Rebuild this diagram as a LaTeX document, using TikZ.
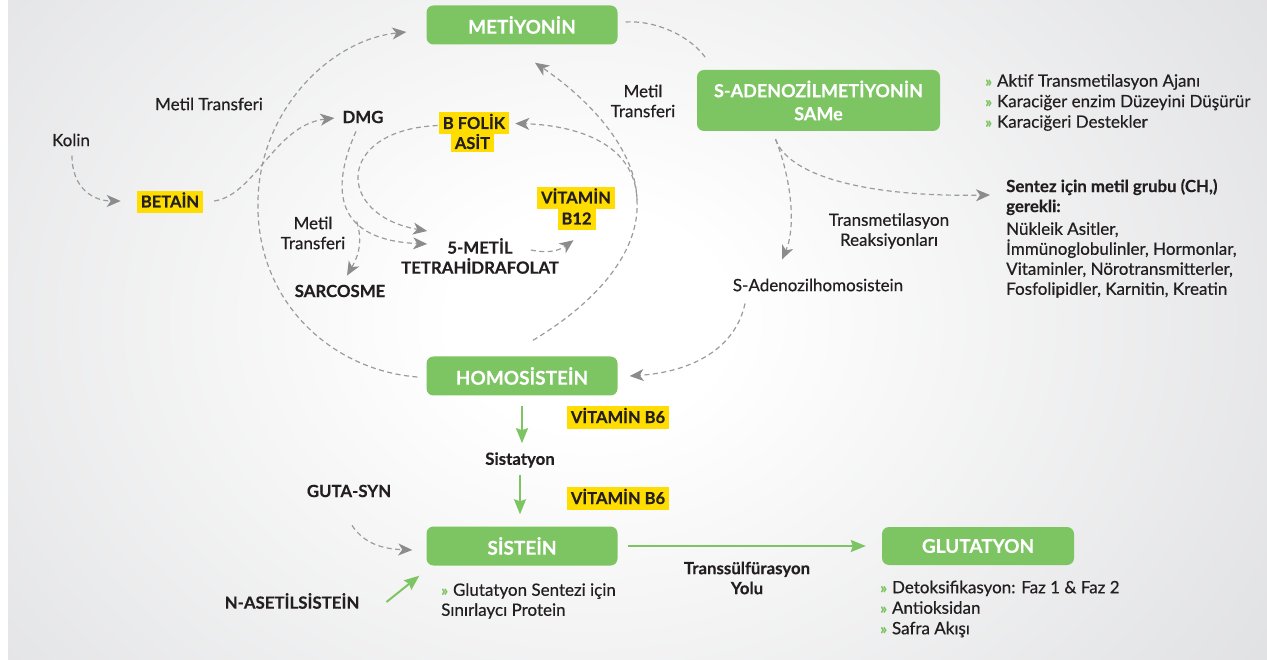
\documentclass[tikz,border=0pt]{standalone}
\usepackage{fontspec}
\setmainfont{Lato}[BoldFeatures={FakeBold=0.3}]
\newfontfamily\medfont{Lato}[FakeBold=0.5]
\usetikzlibrary{arrows.meta,calc}
\definecolor{gr}{RGB}{125,196,98}
\definecolor{yl}{RGB}{255,221,0}
\definecolor{dsg}{RGB}{155,155,157}
\definecolor{arg}{RGB}{140,140,142}
\definecolor{txt}{RGB}{35,31,32}
\definecolor{bgg}{RGB}{204,205,208}
\pgfdeclareradialshading{bgshade}{\pgfpoint{0bp}{0bp}}{color(0bp)=(white); color(5bp)=(white); color(46bp)=(bgg)}
\newcommand{\gq}{{\color{gr}\bfseries\fontsize{15}{15}\selectfont »}\hspace{5pt}}
\begin{document}
\begin{tikzpicture}[x=1pt,y=-1pt,
 gbox/.style={rounded corners=7pt, fill=gr, text=white, font=\bfseries\fontsize{19}{23}\selectfont, align=center, minimum width=191pt, minimum height=39pt, inner sep=0pt},
 hl/.style={fill=yl, text=txt, font=\bfseries\fontsize{16.5}{20}\selectfont, inner xsep=4pt, inner ysep=0pt, text height=12pt, text depth=1pt, minimum height=22pt},
 lab/.style={text=txt, font=\medfont\fontsize{17}{20}\selectfont, align=center, inner sep=0pt},
 blab/.style={text=txt, font=\bfseries\fontsize{16.8}{20}\selectfont, align=center, inner sep=0pt},
 dsh/.style={draw=dsg, line width=1.2pt, dash pattern=on 5pt off 3.5pt, -{Stealth[length=14pt,width=12pt,inset=4pt,fill=arg,color=arg]}},
 gar/.style={draw=gr, line width=2pt, -{Stealth[length=15pt,width=12pt,inset=2pt]}}
]
\useasboundingbox (0,0) rectangle (1267,660);
\fill[white] (0,0) rectangle (1267,660);
\begin{scope}
\clip (8,0) rectangle (1267,660);
\shade[shading=bgshade] (-100,-220) rectangle (1280,860);
\end{scope}

% boxes
\node[gbox] (met) at (522,25) {METİYONİN};
\node[gbox, minimum width=243pt, minimum height=61pt, font=\bfseries\fontsize{18}{23}\selectfont] (same) at (818.5,100.5) {S-ADENOZİLMETİYONİN\\SAMe};
\node[gbox] (homo) at (522,376) {HOMOSİSTEİN};
\node[gbox] (sis) at (522,546) {SİSTEİN};
\node[gbox, minimum width=192pt, minimum height=38pt] (glu) at (978,546) {GLUTATYON};

% labels
\node[lab] (kolin) at (71,140) {Kolin};
\node[lab] (mt1) at (209,104) {Metil Transferi};
\node[hl] (betain) at (170,202) {BETAİN};
\node[blab] (dmg) at (363,117) {DMG};
\node[hl, minimum height=18pt] (folik2) at (472.5,143.5) {ASİT};
\node[hl] (folik1) at (474,123.5) {B FOLİK};
\node[hl] (vit1) at (576,198) {VİTAMİN};
\node[hl] (vit2) at (576.5,219) {B12};
\node[hl, minimum height=23pt] (b6a) at (618,417.5) {VİTAMİN B6};
\node[hl, minimum height=23pt] (b6b) at (618,498.5) {VİTAMİN B6};
\node[lab] (mt2) at (313,233) {Metil\\Transferi};
\node[blab] (sarc) at (340,291) {SARCOSME};
\node[blab] (thf1) at (480,246) {5-METİL};
\node[blab] (thf2) at (480,266) {TETRAHİDRAFOLAT};
\node[lab] (mt3) at (643,101) {Metil\\Transferi};
\node[lab, anchor=west, align=left, font=\medfont\fontsize{17}{20.5}\selectfont] (samelist) at (985,102.5) {\gq Aktif Transmetilasyon Ajanı\\\gq Karaciğer enzim Düzeyini Düşürür\\\gq Karaciğeri Destekler};
\node[blab, anchor=west, align=left] (senthead) at (1006,197) {Sentez için metil grubu (CH,)\\gerekli:};
\node[lab, anchor=west, align=left] (sentlist) at (1006,260) {Nükleik Asitler,\\İmmünoglobulinler, Hormonlar,\\Vitaminler, Nörotransmitterler,\\Fosfolipidler, Karnitin, Kreatin};
\node[lab] (trm) at (889,231) {Transmetilasyon\\Reaksiyonları};
\node[lab] (sah) at (818,285) {S-Adenozilhomosistein};
\node[blab] (sist) at (520,460) {Sistatyon};
\node[blab] (guta) at (349,491) {GUTA-SYN};
\node[blab] (nac) at (292,601) {N-ASETİLSİSTEİN};
\node[lab, anchor=west, align=left] (sislist) at (441,601) {\gq Glutatyon Sentezi için\\Sınırlaycı Protein};
\node[blab] (tsy) at (747,578) {Transsülfürasyon\\Yolu};
\node[lab, anchor=west, align=left, font=\medfont\fontsize{17}{20.5}\selectfont] (glulist) at (880,609) {\gq Detoksifikasyon: Faz 1 \& Faz 2\\\gq Antioksidan\\\gq Safra Akışı};

% dashed connectors
\draw[dsh] ($(kolin.south)+(1,9)$) .. controls (72,190) and (95,201) .. ($(betain.west)+(-16,-1)$);
\draw[dsh] ($(betain.east)+(11,-1)$) .. controls (255,195) and (275,125) .. ($(dmg.west)+(-8,1)$);
\draw[dsh] ($(homo.west)+(-9,1)$) .. controls (330,370) and (255,300) .. (258,200) .. controls (260,110) and (330,40) .. ($(met.west)+(-20,7)$);
\draw[dsh,-] ($(met.east)+(8,-3)$) .. controls (660,20) and (695,40) .. ($(same.north west)+(10,-10)$);
\draw[dsh] ($(same.south)+(-43,8)$) .. controls (790,175) and (797,225) .. ($(sah.north)+(-36,-19)$);
\draw[dsh] ($(same.south)+(-43,8)$) .. controls (790,180) and (880,197) .. ($(senthead.west)+(-16,-2)$);
\draw[dsh] ($(sah.south)+(-73,12)$) .. controls (735,350) and (690,372) .. ($(homo.east)+(12,0)$);
\draw[dsh] ($(dmg.south)+(-7,8)$) .. controls (330,190) and (335,240) .. ($(thf1.west)+(-20,-2)$) coordinate[pos=0.62] (br);
\draw[dsh] (br) .. controls (364,245) and (356,260) .. ($(sarc.north)+(7,-9)$);
\draw[dsh] ($(folik1.west)+(-1,2)$) .. controls (335,130) and (335,215) .. ($(thf1.west)+(-20,-15)$);
\draw[dsh] ($(thf1.east)+(18,4)$) .. controls (550,254) and (560,250) .. ($(vit2.south)+(-3,10)$);
\draw[dsh] ($(homo.north)+(11,-16)$) .. controls (600,300) and (640,250) .. (637,200) coordinate (jn) .. controls (635,140) and (570,125) .. ($(folik1.east)+(6,0)$);
\draw[dsh] (jn) .. controls (636,150) and (590,100) .. ($(met.south)+(13,18)$);
\draw[dsh] ($(guta.south)+(3,28)$) .. controls (365,545) and (385,549) .. ($(sis.west)+(-14,4)$);

% green connectors
\draw[gar] ($(nac.east)+(27,1)$) -- ($(sis.south west)+(-7,10)$);
\draw[gar, shorten <=10pt, shorten >=9pt] (homo.south) -- (homo.south |- sist.north);
\draw[gar, shorten <=7pt, shorten >=12pt] (sist.south) -- (sist.south |- sis.north);
\draw[gar, shorten <=10pt, shorten >=16pt] (sis.east) -- (glu.west);
\end{tikzpicture}
\end{document}
